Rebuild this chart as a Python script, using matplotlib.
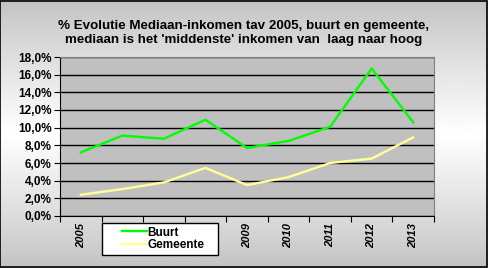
"""Buurt vs gemeente: % evolutie mediaan-inkomen t.o.v. 2005."""
import numpy as np
import matplotlib
matplotlib.use("Agg")
import matplotlib.pyplot as plt
from matplotlib.legend_handler import HandlerLine2D
from matplotlib.lines import Line2D
from matplotlib.ticker import FixedLocator, FuncFormatter

plt.rcParams["font.family"] = ["Liberation Sans", "DejaVu Sans"]

years = ["2005", "2006", "2007", "2008", "2009", "2010", "2011", "2012", "2013"]
buurt = [7.2, 9.1, 8.75, 10.9, 7.7, 8.5, 10.1, 16.7, 10.6]
gemeente = [2.4, 3.05, 3.8, 5.45, 3.5, 4.4, 6.0, 6.5, 8.9]
# year labels hidden behind the legend box in the original
hidden_years = ["2006", "2007", "2008"]
title = ("% Evolutie Mediaan-inkomen tav 2005, buurt en gemeente,\n"
         "mediaan is het 'middenste' inkomen van  laag naar hoog")


class _ShortHandle(HandlerLine2D):
    """Legend line drawn only in the right part of the handle box (Excel look)."""

    def create_artists(self, legend, orig_handle, xdescent, ydescent,
                       width, height, fontsize, trans):
        arts = super().create_artists(legend, orig_handle, xdescent, ydescent,
                                      width, height, fontsize, trans)
        for a in arts:
            n = len(a.get_xdata())
            if isinstance(a, Line2D) and n >= 2:
                a.set_xdata(np.linspace(width * 0.4 - xdescent,
                                        width - xdescent, n))
        return arts


W, H = 488, 268
fig = plt.figure(figsize=(W / 100, H / 100), dpi=100)

# background: vertical gray -> white -> gray gradient
bg = fig.add_axes([0, 0, 1, 1], zorder=-10)
t = np.linspace(0, 1, 200)
shade = 0.76 + 0.24 * (1 - np.abs(t - 0.5) / 0.5) ** 0.9
img = np.repeat(shade[:, None], 2, axis=1)
bg.imshow(img, cmap="gray", vmin=0, vmax=1, aspect="auto",
          extent=[0, 1, 0, 1], origin="upper")
bg.set_xlim(0, 1)
bg.set_ylim(0, 1)
bg.axis("off")
bg.add_patch(plt.Rectangle((0.001, 0.002), 0.997, 0.995, fill=False,
                           edgecolor="black", lw=1.2))

x0, x1, y0, y1 = 60, 434, 57, 216
ax = fig.add_axes([x0 / W, 1 - y1 / H, (x1 - x0) / W, (y1 - y0) / H])
ax.set_facecolor("#c0c0c0")

x = np.arange(len(years))
ax.plot(x, buurt, color="#00ff00", lw=1.7, label="Buurt", zorder=3)
ax.plot(x, gemeente, color="#ffff99", lw=1.7, label="Gemeente", zorder=3)

ax.set_xlim(-0.5, len(years) - 0.5)
ax.set_ylim(0, 18)
ax.yaxis.set_major_locator(FixedLocator(np.arange(0, 19, 2)))
ax.yaxis.set_major_formatter(FuncFormatter(lambda v, p: f"{v:.1f}%".replace(".", ",")))
ax.grid(axis="y", color="black", lw=1.0)
ax.set_axisbelow(True)

ax.xaxis.set_major_locator(FixedLocator(np.arange(-0.5, len(years), 1)))
ax.xaxis.set_major_formatter(FuncFormatter(lambda v, p: ""))
ax.xaxis.set_minor_locator(FixedLocator(x))
ax.set_xticklabels(years, minor=True)
ax.tick_params(axis="x", which="minor", length=0, pad=5, rotation=90,
               labelsize=8)
ax.tick_params(axis="x", which="major", length=4, color="black")
ax.tick_params(axis="y", length=4, labelsize=8.5, pad=2)
for lbl, yr in zip(ax.get_xticklabels(minor=True), years):
    lbl.set_fontweight("bold")
    lbl.set_fontstyle("italic")
    if yr in hidden_years:
        lbl.set_visible(False)
for lbl in ax.get_yticklabels():
    lbl.set_fontweight("bold")

for side in ("top", "right"):
    ax.spines[side].set_color("#808080")
ax.spines["left"].set_color("black")
ax.spines["bottom"].set_color("black")

fig.text(0.5, 1 - 33 / H, title, ha="center", va="center", fontsize=9.6,
         fontweight="bold", linespacing=1.3)

leg = fig.legend(loc="upper left",
                 bbox_to_anchor=(102 / W, 1 - 257 / H, 116 / W, 34 / H),
                 mode="expand", frameon=True, fancybox=False,
                 edgecolor="black", facecolor="white", framealpha=1,
                 fontsize=8.5, handlelength=3.5, handletextpad=0.05,
                 borderpad=0.3, labelspacing=0.05, borderaxespad=0,
                 handler_map={Line2D: _ShortHandle()})
leg.set_zorder(20)
leg.get_frame().set_linewidth(1.0)
for txt in leg.get_texts():
    txt.set_fontweight("bold")

fig.savefig("out.png", dpi=100)
